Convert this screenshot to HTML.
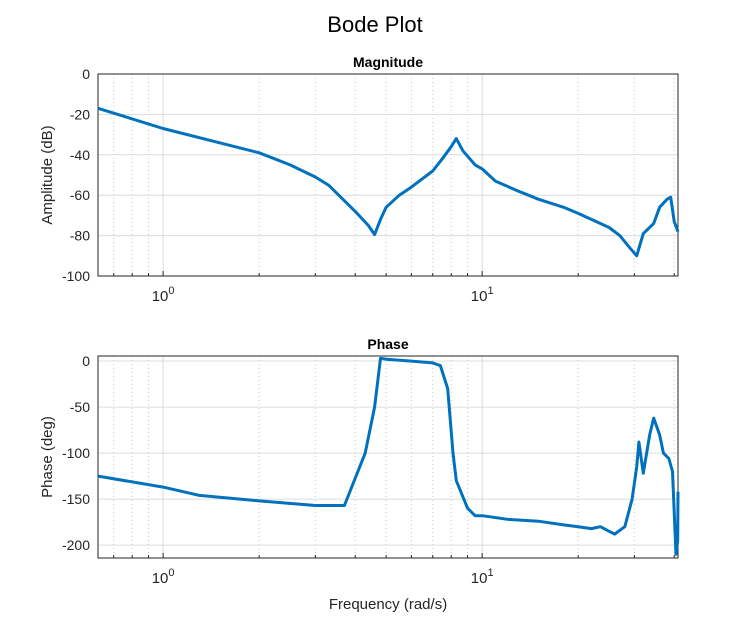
<!DOCTYPE html>
<html><head><meta charset="utf-8"><style>
html,body{margin:0;padding:0;background:#fff;}
svg{display:block;font-family:"Liberation Sans",Arial,sans-serif;}
</style></head><body>
<svg id="chart" width="750" height="625" viewBox="0 0 750 625" xmlns="http://www.w3.org/2000/svg">
<text x="375" y="32" text-anchor="middle" font-size="22" fill="#000">Bode Plot</text>
<g id="g-mag"></g>
<g id="g-ph"></g>
<text x="388" y="609" text-anchor="middle" font-size="15" fill="#262626">Frequency (rad/s)</text>
</svg>
<script>
const magFreq = [0.625,1.0,2.0,2.5,3.0,3.3,4.0,4.4,4.6,4.8,5.0,5.5,6.0,7.0,7.5,8.0,8.3,8.7,9.5,10,11,13,15,18,20,22,25,27,29,30.5,32,34.5,36,38,39,40,41.1];
const magDb = [-17,-27,-39,-45,-51,-55,-68,-75,-79.5,-72,-66,-60,-56,-48,-42,-36,-32,-38,-45,-47,-53,-58,-62,-66,-69,-72,-76,-80,-86,-90,-79,-74,-66,-62,-61,-73,-78];
const phFreq = [0.625,1.0,1.3,2.0,3.0,3.7,4.3,4.6,4.8,5.0,6.0,7.0,7.4,7.8,8.1,8.3,9.0,9.5,10,12,15,18,20,22,23.5,25,26,28,29.5,30.5,31,32,33.5,34.5,36,37,38.5,39.5,40.5,41,41.1];
const phDeg = [-125,-137,-146,-152,-157,-157,-100,-50,3,2,0,-2,-5,-30,-100,-130,-160,-168,-168,-172,-174,-178,-180,-182,-180,-185,-188,-180,-150,-115,-88,-122,-80,-62,-80,-100,-106,-120,-210,-195,-142];
const magTicks = [0,-20,-40,-60,-80,-100];
const phTicks = [0,-50,-100,-150,-200];

const NS="http://www.w3.org/2000/svg";
const X0=98,X1=678,XMIN=0.625,XMAX=41.1;
function sx(f){return X0+(Math.log10(f)-Math.log10(XMIN))/(Math.log10(XMAX)-Math.log10(XMIN))*(X1-X0);}
function mk(tag,attrs,parent){const e=document.createElementNS(NS,tag);for(const k in attrs)e.setAttribute(k,attrs[k]);parent.appendChild(e);return e;}

function drawAxes(g,top,bot,ymin,ymax,ticks,freqs,vals,title,ylabel,prefix){
  const sy=v=>bot-(v-ymin)/(ymax-ymin)*(bot-top);
  // minor x grid
  for(let d=-1;d<=1;d++)for(let m=1;m<=9;m++){const f=m*Math.pow(10,d);if(f<XMIN||f>XMAX)continue;const x=sx(f);
    const l=mk('line',{x1:x,x2:x,y1:top,y2:bot,stroke:m===1?'#dcdcdc':'#c8c8c8','stroke-width':1,'stroke-dasharray':m===1?'':'1,3'},g);
    
    
    if(m===1){const t=mk('text',{x:x,y:bot+25,'text-anchor':'middle','font-size':15,fill:'#262626'},g);
      
      
      t.textContent='10';const s=mk('tspan',{dy:-7,'font-size':11},t);s.textContent=String(d);}
    const tk=mk('line',{x1:x,x2:x,y1:bot,y2:bot-(m===1?5:3),stroke:'#262626'},g);
    
    
  }
  ticks.forEach(v=>{const y=sy(v);
    const l=mk('line',{x1:X0,x2:X1,y1:y,y2:y,stroke:'#dcdcdc','stroke-width':1},g);
    
    
    const t=mk('text',{x:X0-8,y:y+5,'text-anchor':'end','font-size':14,fill:'#262626'},g);
    
    
    t.textContent=String(v);
  });
  const fr=mk('rect',{x:X0,y:top,width:X1-X0,height:bot-top,fill:'none',stroke:'#262626','stroke-width':1},g);
  
  
  const tt=mk('text',{x:(X0+X1)/2,y:top-7,'text-anchor':'middle','font-size':14,'font-weight':'bold',fill:'#000'},g);
  
  
  tt.textContent=title;
  const yl=mk('text',{x:0,y:0,'text-anchor':'middle','font-size':15,fill:'#262626',transform:`translate(52,${(top+bot)/2}) rotate(-90)`},g);
  
  
  yl.textContent=ylabel;
  const pts=freqs.map((f,i)=>sx(f).toFixed(1)+','+Math.max(top,Math.min(bot,sy(vals[i]))).toFixed(1)).join(' ');
  const p=mk('polyline',{points:pts,fill:'none',stroke:'#0072BD','stroke-width':3,'stroke-linejoin':'round'},g);
  
  
}
drawAxes(document.getElementById('g-mag'),74,276,-100,0,magTicks,magFreq,magDb,'Magnitude','Amplitude (dB)','magnitude');
drawAxes(document.getElementById('g-ph'),356,558,-214,5.5,phTicks,phFreq,phDeg,'Phase','Phase (deg)','phase');
</script>
</body></html>
